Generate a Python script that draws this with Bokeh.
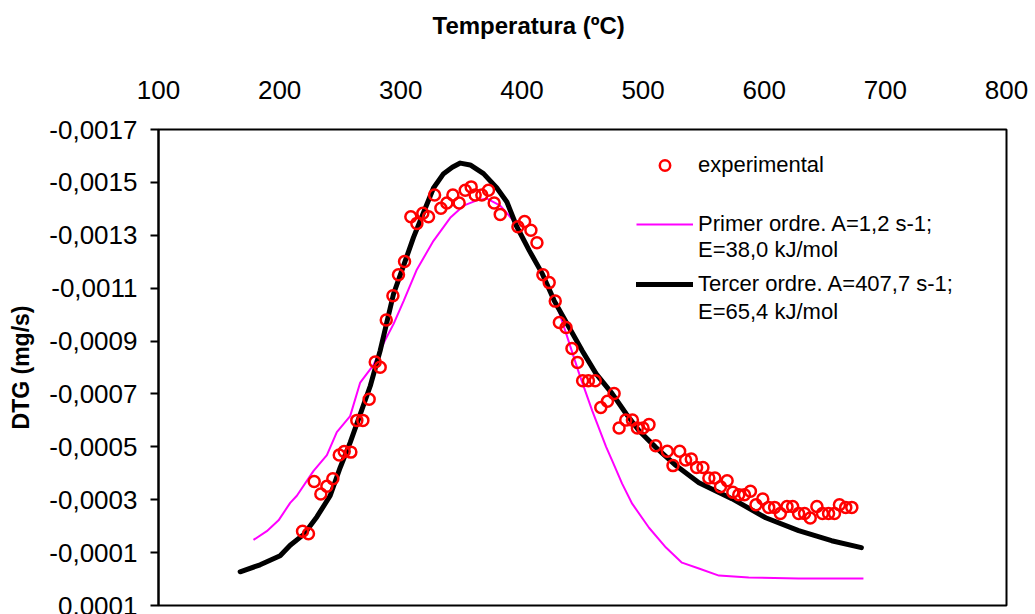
from bokeh.plotting import figure
from bokeh.layouts import column
from bokeh.models import Range1d, FixedTicker, CustomJSTickFormatter, Legend, LegendItem, Label
from bokeh.embed import file_html
from bokeh.resources import INLINE

# ---------------- data ----------------
exp_T = [218.9, 223.8, 228.5, 234.0, 239.0, 243.9, 249.2, 253.3, 258.8, 263.7, 268.7, 273.9,
         278.9, 283.0, 288.0, 293.5, 298.1, 303.1, 308.3, 313.3, 318.2, 322.9, 327.9, 333.1,
         338.0, 343.0, 348.2, 353.2, 358.1, 361.4, 366.9, 372.4, 377.1, 382.1, 396.7, 402.2,
         407.4, 412.4, 417.3, 422.5, 427.5, 430.9, 436.4, 441.3, 445.9, 450.1, 454.9, 460.5,
         465.1, 470.6, 476.1, 480.2, 485.7, 491.2, 495.3, 500.0, 504.9, 510.4, 520.0, 524.7,
         530.2, 535.1, 539.8, 544.2, 549.4, 554.3, 559.3, 563.9, 569.4, 574.1, 579.0, 583.7,
         588.6, 593.2, 598.8, 603.7, 608.6, 613.3, 618.8, 623.5, 628.4, 633.3, 638.0, 643.5,
         648.1, 653.1, 658.0, 662.1, 667.3, 672.3]
exp_DTG = [-0.000181, -0.000171, -0.000369, -0.000322, -0.000351, -0.000379, -0.000469, -0.000482,
           -0.000480, -0.000600, -0.000600, -0.000680, -0.000821, -0.000801, -0.000980, -0.001071,
           -0.001151, -0.001201, -0.001370, -0.001345, -0.001383, -0.001370, -0.001452, -0.001402,
           -0.001422, -0.001452, -0.001422, -0.001470, -0.001483, -0.001452, -0.001452, -0.001470,
           -0.001422, -0.001379, -0.001332, -0.001352, -0.001319, -0.001272, -0.001151, -0.001121,
           -0.001051, -0.000970, -0.000951, -0.000872, -0.000819, -0.000750, -0.000750, -0.000750,
           -0.000649, -0.000672, -0.000702, -0.000571, -0.000601, -0.000601, -0.000571, -0.000571,
           -0.000584, -0.000504, -0.000483, -0.000429, -0.000483, -0.000450, -0.000454, -0.000422,
           -0.000422, -0.000382, -0.000382, -0.000349, -0.000372, -0.000328, -0.000319, -0.000319,
           -0.000332, -0.000281, -0.000303, -0.000271, -0.000271, -0.000248, -0.000274, -0.000274,
           -0.000248, -0.000248, -0.000231, -0.000274, -0.000248, -0.000248, -0.000248, -0.000281,
           -0.000271, -0.000271]

first_T = [178.4, 189.4, 199.1, 208.7, 214.2, 228.0, 239.0, 247.2, 258.2, 266.5, 277.5, 287.1,
           294.0, 302.3, 313.3, 327.0, 340.8, 351.8, 362.8, 371.1, 382.1, 392.0, 404.0, 416.0,
           428.4, 436.6, 447.3, 458.0, 469.5, 474.5, 482.7, 491.0, 504.9, 518.9, 532.1, 546.1,
           562.6, 587.2, 628.4, 681.9]
first_DTG = [-0.000148, -0.000181, -0.000222, -0.000288, -0.000315, -0.000409, -0.000469, -0.000556,
             -0.000616, -0.000743, -0.000810, -0.000904, -0.000964, -0.001051, -0.001171, -0.001279,
             -0.001366, -0.001412, -0.001432, -0.001439, -0.001412, -0.001360, -0.001262, -0.001160,
             -0.001041, -0.000927, -0.000776, -0.000637, -0.000500, -0.000448, -0.000361, -0.000285,
             -0.000194, -0.000119, -0.000062, -0.000040, -0.000013, -0.000006, -0.000002, -0.000002]

third_T = [167.4, 183.9, 200.4, 208.7, 219.7, 230.7, 241.7, 250.0, 258.2, 266.5, 274.8, 283.0,
           288.5, 294.0, 302.3, 310.5, 318.8, 327.0, 335.3, 342.5, 349.1, 357.3, 368.3, 379.3,
           387.6, 395.5, 406.2, 416.9, 426.7, 439.1, 449.8, 461.3, 474.5, 486.0, 496.7, 510.7,
           527.2, 546.1, 573.3, 601.2, 628.4, 655.6, 680.2]
third_DTG = [-0.0000275, -0.000054, -0.000088, -0.000128, -0.000168, -0.000235, -0.000315, -0.000422,
             -0.000516, -0.000623, -0.000730, -0.000864, -0.000971, -0.001078, -0.001185, -0.001292,
             -0.001386, -0.001479, -0.001533, -0.001557, -0.001573, -0.001566, -0.001533, -0.001479,
             -0.001426, -0.001335, -0.001241, -0.001154, -0.001052, -0.000950, -0.000863, -0.000776,
             -0.000701, -0.000625, -0.000561, -0.000497, -0.000429, -0.000364, -0.000304, -0.000232,
             -0.000183, -0.000145, -0.000119]

x_ticks = [100, 200, 300, 400, 500, 600, 700, 800]
y_ticks = [-0.0017, -0.0015, -0.0013, -0.0011, -0.0009, -0.0007, -0.0005, -0.0003, -0.0001, 0.0001]

x_title = "Temperatura (ºC)"
y_title = "DTG (mg/s)"
label_exp = "experimental"
label_first = ["Primer ordre. A=1,2 s-1;", "E=38,0 kJ/mol"]
label_third = ["Tercer ordre. A=407,7 s-1;", "E=65,4 kJ/mol"]

FONT = "Liberation Sans"
TITLE_H = 50

# ---------------- title strip (holds the x-axis title) ----------------
t = figure(width=1035, height=TITLE_H, output_backend="svg", toolbar_location=None,
           x_axis_type=None, y_axis_type=None, x_range=Range1d(0, 1), y_range=Range1d(0, 1),
           min_border=0, background_fill_color="white", border_fill_color="white")
t.outline_line_color = None
t.xgrid.visible = False
t.ygrid.visible = False
t.add_layout(Label(x=274, y=25, x_units="screen", y_units="screen", text=x_title,
                   text_font=FONT, text_font_size="24px", text_font_style="bold",
                   text_color="black", text_align="left", text_baseline="alphabetic"))

# ---------------- main figure ----------------
p = figure(width=1035, height=614 - TITLE_H, output_backend="svg", toolbar_location=None,
           x_range=Range1d(100, 800), y_range=Range1d(0.0001, -0.0017),
           x_axis_location="above",
           min_border_left=158, min_border_right=29, min_border_top=129 - TITLE_H,
           min_border_bottom=9,
           background_fill_color="white", border_fill_color="white")

p.outline_line_color = "black"
p.outline_line_width = 2
p.xgrid.visible = False
p.ygrid.visible = False

# top x axis
xa = p.xaxis[0]
xa.ticker = FixedTicker(ticks=x_ticks)
xa.major_tick_out = 0
xa.major_tick_in = 0
xa.minor_tick_out = 0
xa.minor_tick_in = 0
xa.axis_line_color = None
xa.major_label_text_font = FONT
xa.major_label_text_font_size = "26px"
xa.major_label_text_color = "black"
xa.major_label_standoff = 31

# left y axis
ya = p.yaxis[0]
ya.ticker = FixedTicker(ticks=y_ticks)
ya.formatter = CustomJSTickFormatter(code="return tick.toFixed(4).replace('.', ',');")
ya.major_tick_out = 8
ya.major_tick_in = 0
ya.minor_tick_out = 0
ya.minor_tick_in = 0
ya.axis_line_width = 2
ya.major_tick_line_width = 2
ya.axis_line_color = "black"
ya.major_label_text_font = FONT
ya.major_label_text_font_size = "26px"
ya.major_label_text_color = "black"
ya.major_label_standoff = 13
ya.axis_label = y_title
ya.axis_label_text_font = FONT
ya.axis_label_text_font_size = "23px"
ya.axis_label_text_font_style = "bold"
ya.axis_label_text_color = "black"
ya.axis_label_standoff = 12

# series
r_first = p.line(first_T, first_DTG, line_color="#FF00FF", line_width=2)
r_third = p.line(third_T, third_DTG, line_color="black", line_width=5, line_join="round", line_cap="round")
r_exp = p.scatter(exp_T, exp_DTG, marker="circle", size=11, fill_color=None,
                  line_color="#FF0000", line_width=2.5)
r_blank = p.line([], [], line_alpha=0)

def make_legend(items, loc, spacing=0):
    lg = Legend(items=items, location=loc, padding=0, margin=0, spacing=spacing,
                label_standoff=5, glyph_width=57, glyph_height=26, label_height=26,
                label_text_font=FONT, label_text_font_size="22px", label_text_color="black",
                border_line_color=None, background_fill_alpha=0)
    p.add_layout(lg)
    return lg

make_legend([LegendItem(label=label_exp, renderers=[r_exp])], (478, 427))
make_legend([LegendItem(label=label_first[0], renderers=[r_first]),
             LegendItem(label=label_first[1], renderers=[r_blank])], (478, 342))
make_legend([LegendItem(label=label_third[0], renderers=[r_third]),
             LegendItem(label=label_third[1], renderers=[r_blank])], (478, 280), spacing=2)

layout = column(t, p, spacing=0)
open("out.html", "w").write(file_html(layout, INLINE))
